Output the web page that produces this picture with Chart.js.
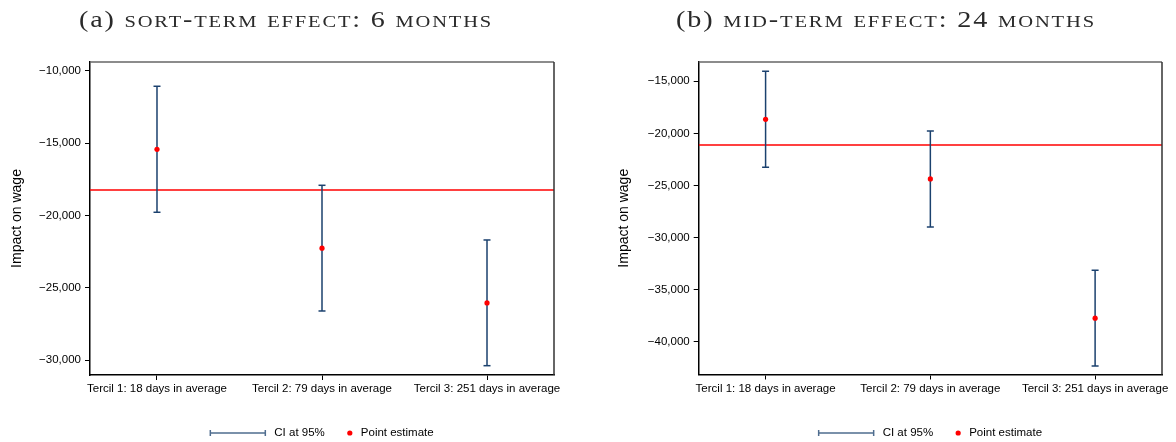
<!DOCTYPE html>
<html><head><meta charset="utf-8">
<script src="https://cdn.jsdelivr.net/npm/chart.js@4.4.1/dist/chart.umd.min.js"></script>
<style>
html,body{margin:0;padding:0;background:#fff;width:1176px;height:442px;overflow:hidden}
.panel{position:absolute;top:0;width:588px;height:442px}
#pa{left:0}#pb{left:588px}
canvas{display:block}
</style></head><body>
<div class="panel" id="pa"><canvas id="ca" width="588" height="442"></canvas></div>
<div class="panel" id="pb"><canvas id="cb" width="588" height="442"></canvas></div>
<script>
// ---- data ----
const categories = ['Tercil 1: 18 days in average', 'Tercil 2: 79 days in average', 'Tercil 3: 251 days in average'];

const shortTitle = '(a) sort-term effect: 6 months';
const shortEstimate = [-15413, -22252, -26033];
const shortCiLow = [-19768, -26591, -30372];
const shortCiHigh = [-11058, -17902, -21683];
const shortAverage = -18227;
const shortTicks = [-30000, -25000, -20000, -15000, -10000];

const midTitle = '(b) mid-term effect: 24 months';
const midEstimate = [-18644, -24369, -37728];
const midCiLow = [-23247, -28973, -42303];
const midCiHigh = [-14041, -19766, -33125];
const midAverage = -21109;
const midTicks = [-40000, -35000, -30000, -25000, -20000, -15000];

const yTitleText = 'Impact on wage';
const legendLabels = ['CI at 95%', 'Point estimate'];

// ---- style ----
const SANS = '"Liberation Sans", Arial, sans-serif';
const SERIF = '"Liberation Serif", "DejaVu Serif", serif';
const NAVY = '#1b416e';
const RED = '#ff0000';
const X_MIN = -0.406, X_MAX = 2.406;

function fmt(v) {
  const s = Math.abs(v).toLocaleString('en-US');
  return (v < 0 ? '\u2212' : '') + s;
}

// caption in small caps: "(a)" roman, the rest lowercase -> small capitals
function drawCaption(ctx, text, cx, baseline, size, scSize, target) {
  const runs = [];
  const prefixEnd = text.indexOf(')') + 1;
  for (let i = 0; i < text.length; i++) {
    const ch = text[i];
    const small = i >= prefixEnd && ch !== ch.toUpperCase();
    const g = small ? ch.toUpperCase() : ch;
    const sz = small ? scSize : size;
    const last = runs[runs.length - 1];
    if (last && last.sz === sz) last.t += g; else runs.push({t: g, sz});
  }
  const sp = 1.5;
  let w0 = 0;
  runs.forEach(r => { ctx.font = r.sz + 'px ' + SERIF; r.w = ctx.measureText(r.t).width + sp * r.t.length; w0 += r.w; });
  const k = target / w0;
  ctx.save();
  ctx.translate(cx - target / 2, baseline);
  ctx.scale(k, 1);
  ctx.textAlign = 'left'; ctx.textBaseline = 'alphabetic';
  let x = 0;
  runs.forEach(r => {
    ctx.font = r.sz + 'px ' + SERIF;
    try { ctx.letterSpacing = sp + 'px'; } catch (e) {}
    ctx.fillText(r.t, x, 0);
    x += r.w;
  });
  try { ctx.letterSpacing = '0px'; } catch (e) {}
  ctx.restore();
}

const decor = {
  id: 'decor',
  afterDraw(chart, args, o) {
    const ctx = chart.ctx, a = chart.chartArea;
    ctx.save();
    // top and right frame
    ctx.lineWidth = 1.5;
    ctx.strokeStyle = '#666';
    ctx.beginPath(); ctx.moveTo(a.left, a.top); ctx.lineTo(a.right, a.top); ctx.stroke();
    ctx.strokeStyle = '#333';
    ctx.beginPath(); ctx.moveTo(a.right, a.top); ctx.lineTo(a.right, a.bottom); ctx.stroke();
    // caption
    ctx.fillStyle = '#2a2a2a';
    drawCaption(ctx, o.title, o.titleX, 27.3, 23, 16.8, o.titleWidth);
    // legend
    ctx.font = '11.5px ' + SANS;
    ctx.textAlign = 'left'; ctx.textBaseline = 'middle';
    const w1 = ctx.measureText(legendLabels[0]).width;
    const w2 = ctx.measureText(legendLabels[1]).width;
    const total = 64 + w1 + 25 + 11 + w2;
    const x0 = (a.left + a.right) / 2 - total / 2, y = 433;
    ctx.strokeStyle = '#4f6d8f'; ctx.lineWidth = 1.5;
    ctx.beginPath();
    ctx.moveTo(x0, y); ctx.lineTo(x0 + 55, y);
    ctx.moveTo(x0, y - 3); ctx.lineTo(x0, y + 3);
    ctx.moveTo(x0 + 55, y - 3); ctx.lineTo(x0 + 55, y + 3);
    ctx.stroke();
    ctx.fillStyle = '#000';
    ctx.fillText(legendLabels[0], x0 + 64, y);
    const dx = x0 + 64 + w1 + 25;
    ctx.fillStyle = RED;
    ctx.beginPath(); ctx.arc(dx, y, 2.6, 0, Math.PI * 2); ctx.fill();
    ctx.fillStyle = '#000';
    ctx.fillText(legendLabels[1], dx + 11, y);
    ctx.restore();
  }
};

function makeChart(id, p) {
  const ci = [];
  p.low.forEach((lo, i) => {
    ci.push({x: i, y: p.high[i]}, {x: i, y: lo}, {x: i, y: null});
  });
  const est = p.est.map((v, i) => ({x: i, y: v}));
  const gridCfg = {display: true, drawOnChartArea: false, drawTicks: true, tickLength: 5, color: '#000', lineWidth: 1};
  return new Chart(document.getElementById(id), {
    type: 'scatter',
    data: {
      datasets: [
        {label: legendLabels[1], data: est, pointRadius: 2.6, pointHoverRadius: 2.6, backgroundColor: RED, borderWidth: 0, pointBorderWidth: 0, order: 0},
        {label: legendLabels[0], data: ci, showLine: true, spanGaps: false, borderColor: NAVY, borderWidth: 1.5,
         pointStyle: 'line', pointRadius: 3.5, pointHoverRadius: 3.5, pointBorderColor: NAVY, pointBorderWidth: 1.5, order: 1},
        {label: 'Average', data: [{x: X_MIN, y: p.avg}, {x: X_MAX, y: p.avg}], showLine: true, borderColor: RED, borderWidth: 1.3, pointRadius: 0, order: 2}
      ]
    },
    options: {
      responsive: false, animation: false, devicePixelRatio: 1,
      events: [],
      layout: {padding: {left: 0, right: p.padRight, top: 62, bottom: p.padBottom}},
      plugins: {legend: {display: false}, tooltip: {enabled: false}, title: {display: false},
        decor: {title: p.title, titleX: p.titleX, titleWidth: p.titleWidth}},
      scales: {
        x: {
          type: 'linear', min: X_MIN, max: X_MAX,
          afterBuildTicks: s => { s.ticks = categories.map((c, i) => ({value: i})); },
          afterFit: s => { s.height = 30; },
          ticks: {callback: v => categories[v] ?? '', color: '#000', font: {family: SANS, size: 11.5}, padding: 2, maxRotation: 0, autoSkip: false},
          grid: gridCfg,
          border: {display: true, color: '#000', width: 1.5}
        },
        y: {
          type: 'linear', min: p.yMin, max: p.yMax,
          afterBuildTicks: s => { s.ticks = p.ticks.map(v => ({value: v})); },
          afterFit: s => { s.width = p.yWidth; },
          ticks: {callback: v => fmt(v), color: '#000', font: {family: SANS, size: 11.5}, padding: 4},
          grid: gridCfg,
          border: {display: true, color: '#000', width: 1.5},
          title: {display: true, text: yTitleText, color: '#000', font: {family: SANS, size: 14}, padding: {top: p.yTitlePad, bottom: 0}}
        }
      }
    },
    plugins: [decor]
  });
}

makeChart('ca', {
  title: shortTitle, titleX: 286, titleWidth: 414,
  est: shortEstimate, low: shortCiLow, high: shortCiHigh, avg: shortAverage, ticks: shortTicks,
  yMin: -31016, yMax: -9380, yWidth: 90, padRight: 34, padBottom: 37, yTitlePad: 9.1
});
makeChart('cb', {
  title: midTitle, titleX: 298, titleWidth: 420,
  est: midEstimate, low: midCiLow, high: midCiHigh, avg: midAverage, ticks: midTicks,
  yMin: -43127, yMax: -13149, yWidth: 110.7, padRight: 14, padBottom: 37.5, yTitlePad: 28.1
});
</script>
</body></html>
